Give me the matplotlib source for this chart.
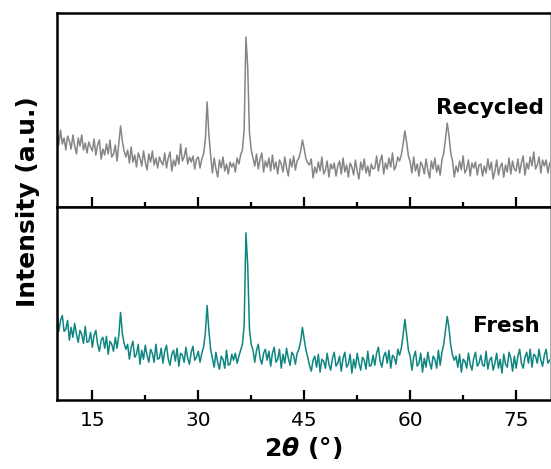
import numpy as np
import matplotlib
matplotlib.use("Agg")
import matplotlib.pyplot as plt

# 2theta grid (deg), 0.25 deg steps from 10 to 80
two_theta = np.arange(10.0, 80.001, 0.25)

# intensity (arb. units, px above panel bottom)
recycled = [
    75, 62, 77, 63, 69, 57, 71, 66, 58, 72, 61, 53, 69, 61, 72, 57, 64, 54, 65, 60,
    56, 68, 52, 62, 67, 48, 58, 52, 63, 53, 67, 50, 53, 62, 46, 64, 81, 66, 56, 50,
    57, 44, 60, 45, 52, 40, 54, 49, 41, 56, 45, 37, 53, 45, 56, 42, 49, 39, 50, 45,
    42, 54, 39, 49, 55, 36, 47, 41, 52, 43, 63, 46, 50, 59, 43, 50, 45, 51, 38, 48,
    50, 39, 48, 53, 67, 105, 73, 52, 34, 49, 38, 30, 47, 39, 50, 36, 43, 33, 45, 40,
    44, 35, 49, 43, 52, 57, 78, 170, 140, 74, 57, 49, 41, 53, 38, 48, 54, 35, 46, 40,
    49, 36, 52, 38, 45, 33, 47, 43, 35, 50, 39, 31, 48, 40, 51, 37, 46, 49, 56, 67,
    58, 48, 44, 42, 48, 29, 40, 34, 45, 36, 50, 33, 37, 46, 30, 43, 38, 44, 31, 41,
    46, 33, 49, 35, 42, 30, 44, 40, 32, 47, 36, 28, 45, 37, 48, 34, 41, 31, 43, 38,
    39, 51, 36, 46, 52, 33, 44, 38, 49, 40, 54, 37, 41, 50, 46, 52, 63, 76, 65, 51,
    45, 34, 50, 36, 43, 31, 45, 41, 33, 48, 37, 29, 46, 38, 49, 35, 42, 32, 47, 54,
    68, 84, 71, 54, 46, 30, 41, 35, 46, 37, 51, 34, 38, 47, 31, 44, 39, 45, 32, 42,
    43, 31, 41, 34, 48, 37, 45, 28, 36, 47, 32, 40, 44, 30, 42, 35, 49, 33, 46, 38,
    36, 48, 34, 44, 51, 32, 44, 38, 50, 41, 55, 38, 42, 50, 34, 47, 41, 47, 34, 44,
    43,
]
fresh = [
    86, 69, 80, 85, 69, 71, 80, 60, 73, 63, 77, 66, 58, 70, 66, 57, 74, 58, 59, 68,
    53, 65, 70, 56, 49, 60, 63, 52, 64, 46, 59, 56, 49, 63, 52, 65, 88, 67, 57, 51,
    56, 41, 53, 59, 43, 46, 56, 36, 50, 41, 55, 45, 38, 51, 47, 38, 56, 41, 42, 52,
    37, 49, 55, 41, 35, 46, 50, 39, 52, 34, 47, 45, 38, 53, 42, 36, 48, 54, 40, 43,
    49, 38, 47, 53, 67, 95, 70, 51, 42, 33, 48, 38, 31, 44, 41, 32, 50, 35, 36, 46,
    40, 47, 37, 44, 50, 56, 75, 168, 136, 71, 56, 50, 38, 50, 56, 42, 36, 47, 51, 40,
    49, 34, 47, 53, 38, 41, 51, 32, 46, 37, 52, 42, 35, 48, 45, 36, 47, 51, 59, 73,
    61, 50, 43, 35, 29, 40, 44, 33, 46, 28, 41, 39, 32, 47, 36, 30, 42, 48, 34, 37,
    44, 29, 42, 48, 33, 36, 46, 27, 41, 32, 47, 37, 30, 43, 40, 31, 49, 34, 35, 45,
    35, 47, 53, 39, 33, 44, 48, 37, 50, 32, 45, 43, 36, 51, 45, 52, 65, 81, 66, 50,
    44, 30, 43, 49, 34, 37, 47, 28, 42, 33, 48, 38, 31, 44, 41, 32, 50, 35, 48, 56,
    70, 84, 72, 55, 45, 40, 44, 33, 46, 28, 41, 39, 32, 47, 36, 30, 42, 48, 34, 37,
    45, 35, 34, 49, 31, 40, 43, 30, 37, 47, 32, 41, 27, 46, 36, 33, 48, 42, 29, 44,
    32, 44, 51, 37, 32, 43, 48, 37, 51, 33, 46, 44, 37, 51, 40, 34, 45, 51, 37, 40,
    42,
]

major_ticks = [15, 30, 45, 60, 75]
minor_ticks = [22.5, 37.5, 52.5, 67.5]

fig = plt.figure(figsize=(5.51, 4.69), dpi=100)
W, H = 551, 469
left, right = 57, 550
top, mid, bottom = 13, 207, 400

ax_top = fig.add_axes([left / W, 1 - mid / H, (right - left) / W, (mid - top) / H])
ax_bot = fig.add_axes([left / W, 1 - bottom / H, (right - left) / W, (bottom - mid) / H])

ax_top.plot(two_theta, recycled, color="#858585", lw=1.1)
ax_bot.plot(two_theta, fresh, color="#0e8580", lw=1.1)

for ax in (ax_top, ax_bot):
    ax.set_xlim(10, 79.8)
    ax.set_ylim(0, 194)
    ax.set_yticks([])
    ax.set_xticks(major_ticks)
    ax.set_xticks(minor_ticks, minor=True)
    ax.tick_params(axis="x", which="major", direction="in", length=7, width=1.6,
                   labelsize=14.5, pad=8)
    ax.tick_params(axis="x", which="minor", direction="in", length=3.5, width=1.6)
    for s in ("left", "top", "bottom"):
        ax.spines[s].set_linewidth(1.8)
    ax.spines["right"].set_linewidth(0.6)
    ax.spines["right"].set_color("#999999")

ax_top.tick_params(axis="x", labelbottom=False)

ax_top.text(79.0, 99, "Recycled", ha="right", va="center", fontsize=15.5, fontweight="bold")
ax_bot.text(78.4, 74, "Fresh", ha="right", va="center", fontsize=15.5, fontweight="bold")

ax_bot.set_xlabel(r"2$\boldsymbol{\theta}$ (°)", fontsize=18, fontweight="bold")
ax_bot.xaxis.set_label_coords(0.5, -0.18)

fig.text(28 / W, 1 - 202 / H, "Intensity (a.u.)", rotation=90, ha="center", va="center",
         fontsize=18, fontweight="bold")

fig.savefig("out.png", dpi=100)
